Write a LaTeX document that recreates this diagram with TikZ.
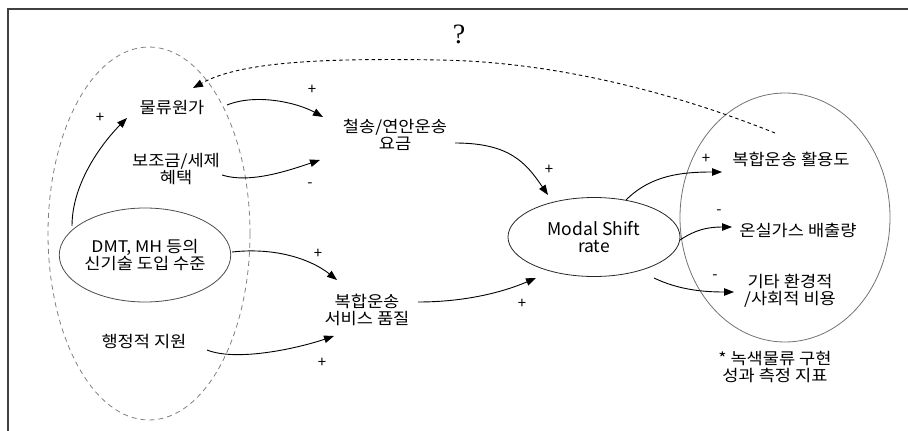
\documentclass[tikz,border=0pt]{standalone}
\usepackage{fontspec}
\setmainfont{Noto Sans CJK KR}[FakeStretch=1.1]
\newfontfamily\latinfont{Noto Sans CJK KR}
\newfontfamily\qfont{Liberation Serif}
\usetikzlibrary{arrows.meta,calc,shapes.geometric}

\tikzset{
  lbl/.style={align=center, inner sep=1pt, font=\fontsize{16}{17}\selectfont},
  sgn/.style={inner sep=0pt, font=\latinfont\fontsize{15}{15}\selectfont},
  link/.style={draw=black, line width=0.9pt, -{Triangle[length=10pt,width=7.5pt]}},
  feedback/.style={draw=black, line width=0.9pt, dash pattern=on 3.5pt off 3pt,
    -{Triangle[length=10pt,width=7.5pt]}},
  bubble/.style={ellipse, draw, line width=0.8pt, inner sep=0pt}
}

\begin{document}
\begin{tikzpicture}[x=1pt,y=-1pt]
  \useasboundingbox (0,0) rectangle (908,431);

  % frame (top and left edges)
  \draw[line width=1.4pt, draw=black!75] (8,431) -- (8,9) -- (908,9);

  % grouping ellipses
  \node[bubble, dashed, draw=black!50, dash pattern=on 5pt off 4pt,
        minimum width=202pt, minimum height=373pt] (policy) at (149,233.5) {};
  \node[bubble, draw=black!55, minimum width=210pt, minimum height=249pt]
        (indicators) at (785,217.5) {};

  % variables
  \node[lbl] (cost) at (172,108) {물류원가};
  \node[lbl] (subsidy) at (176,169) {보조금/세제\\혜택};
  \node[lbl] (rail) at (395,135) {철송/연안운송\\요금};
  \node[bubble, draw=black!70, minimum width=170pt, minimum height=94pt,
        align=center, font=\fontsize{16}{17}\selectfont]
        (dmt) at (145,255) {DMT, MH 등의\\신기술 도입 수준};
  \node[lbl] (admin) at (144,342) {행정적 지원};
  \node[lbl] (quality) at (367,310) {복합운송\\서비스 품질};
  \node[bubble, draw=black!85, minimum width=172pt, minimum height=79pt,
        align=center, font=\latinfont\fontsize{17.5}{17}\selectfont]
        (modal) at (594,237) {Modal Shift\\rate};
  \node[lbl] (use) at (791,159) {복합운송 활용도};
  \node[lbl] (ghg) at (798,230) {온실가스 배출량};
  \node[lbl] (other) at (790,291) {기타 환경적\\/사회적 비용};
  \node[lbl] (note) at (775,367) {* 녹색물류 구현\\성과 측정 지표};
  \node[inner sep=0pt, font=\qfont\fontsize{28}{28}\selectfont] (ask) at (459,34) {?};

  % causal links
  \draw[link] ($(cost)+(55,-3)$) .. controls +(30,-12) and +(-25,-14) .. ($(rail)+(-72,-18)$);
  \draw[link] ($(subsidy)+(46,6)$) .. controls +(28,9) and +(-30,10) .. ($(rail)+(-75,25)$);
  \draw[link] ($(dmt)+(-73,-29)$) .. controls +(0,-45) and +(-22,22) .. ($(cost)+(-45,10)$);
  \draw[link] ($(dmt)+(87,-3)$) .. controls +(45,-5) and +(-25,-20) .. ($(quality)+(-30,-30)$);
  \draw[link] ($(admin)+(63,8)$) .. controls +(30,12) and +(-35,12) .. ($(quality)+(-33,26)$);
  \draw[link] ($(rail)+(60,8)$) .. controls +(55,0) and +(-22,-32) .. ($(modal)+(-46,-42)$);
  \draw[link] ($(quality)+(51,-8)$) .. controls +(45,0) and +(-35,15) .. ($(modal)+(-58,41)$);
  \draw[link] ($(modal)+(32,-37)$) .. controls +(25,-25) and +(-40,0) .. ($(use)+(-69,13)$);
  \draw[link] ($(modal)+(86,3)$) .. controls +(15,-10) and +(-25,0) .. ($(ghg)+(-66,-3)$);
  \draw[link] ($(modal)+(60,41)$) .. controls +(25,12) and +(-30,0) .. ($(other)+(-56,1)$);

  % feedback from the indicators back to logistics cost
  \coordinate (top) at (440,60);
  \draw[feedback] ($(use)+(-16,-26)$) .. controls +(-95,-38) and +(120,2) .. (top)
     .. controls +(-120,-2) and +(47,-26) .. ($(cost)+(21,-20)$);

  % link polarities
  \node[sgn] (s1) at (312,90) {+};
  \node[sgn] (s2) at (100,118) {+};
  \node[sgn] (s3) at (310,185) {-};
  \node[sgn] (s4) at (318,254) {+};
  \node[sgn] (s5) at (322,363) {+};
  \node[sgn] (s6) at (549,170) {+};
  \node[sgn] (s7) at (522,304) {+};
  \node[sgn] (s8) at (706,159) {+};
  \node[sgn] (s9) at (719,212) {-};
  \node[sgn] (s10) at (715,277) {-};
\end{tikzpicture}
\end{document}
